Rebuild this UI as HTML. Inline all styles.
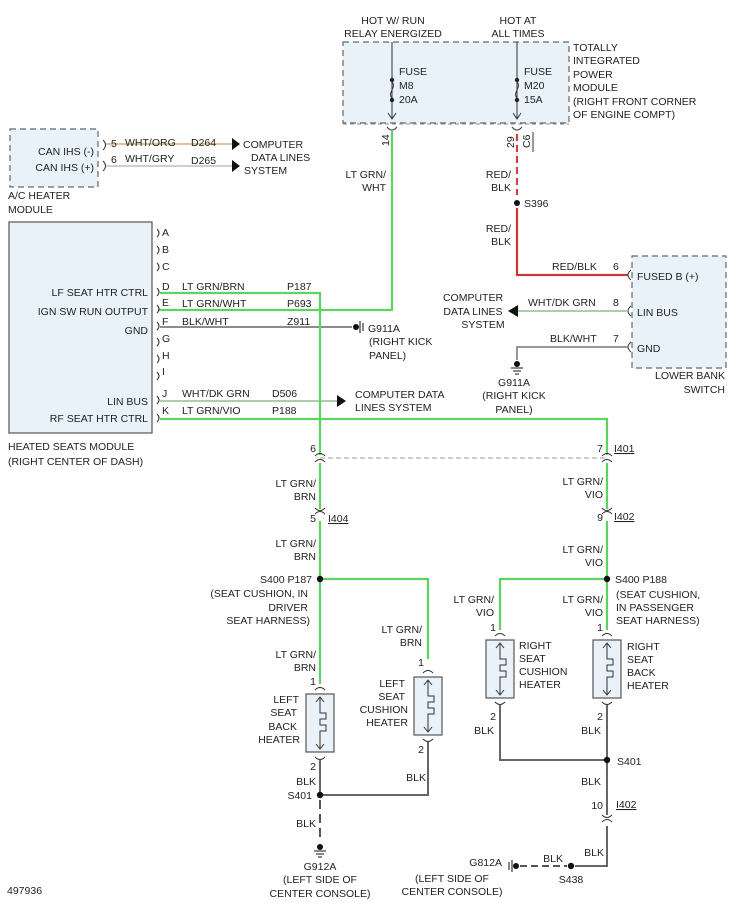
<!DOCTYPE html>
<html><head><meta charset="utf-8"><style>
html,body{margin:0;padding:0;background:#fff}
svg{display:block}
text{font-family:"Liberation Sans",sans-serif;font-size:10.5px;fill:#222}
.u{text-decoration:underline}
</style></head><body>
<svg width="733" height="903" viewBox="0 0 733 903" xmlns="http://www.w3.org/2000/svg">
<defs>
<g id="ht">
<rect x="0" y="0" width="28" height="58" fill="#e8f2f8" stroke="#555" stroke-width="1.2"/>
<path d="M14 3 V19 H20 V25 H14 V31 H20 V37 H14 V55" fill="none" stroke="#333" stroke-width="1"/>
<path d="M10 8 L14 3 L18 8 M10 50 L14 55 L18 50" fill="none" stroke="#333" stroke-width="1"/>
</g>
</defs>
<!-- TIPM -->
<rect x="343" y="42" width="226" height="81" fill="#e8f2f8" stroke="#666" stroke-dasharray="6,4" stroke-width="1.2"/>
<text x="393" y="24" text-anchor="middle">HOT W/ RUN</text>
<text x="393" y="37" text-anchor="middle">RELAY ENERGIZED</text>
<text x="518" y="24" text-anchor="middle">HOT AT</text>
<text x="518" y="37" text-anchor="middle">ALL TIMES</text>
<g stroke="#333" fill="none" stroke-width="1">
<path d="M392 42 V118 M388 113 L392 119 L396 113"/>
<path d="M517 42 V118 M513 113 L517 119 L521 113"/>
<path d="M392 98 C387 93 397 87 392 82"/><path d="M517 98 C512 93 522 87 517 82"/>
</g>
<g fill="#222"><circle cx="392" cy="80" r="2.2"/><circle cx="392" cy="100" r="2.2"/><circle cx="517" cy="80" r="2.2"/><circle cx="517" cy="100" r="2.2"/></g>
<text x="399" y="75">FUSE</text><text x="399" y="89">M8</text><text x="399" y="103">20A</text>
<text x="524" y="75">FUSE</text><text x="524" y="89">M20</text><text x="524" y="103">15A</text>
<text x="573" y="51">TOTALLY</text><text x="573" y="64">INTEGRATED</text><text x="573" y="78">POWER</text>
<text x="573" y="91">MODULE</text><text x="573" y="105">(RIGHT FRONT CORNER</text><text x="573" y="118">OF ENGINE COMPT)</text>
<path d="M343 124 H569" stroke="#888" stroke-dasharray="4,3"/>
<path d="M387 127 Q392 133 397 127 M512 127 Q517 133 522 127" stroke="#333" fill="none"/>
<text x="389" y="146" transform="rotate(-90 389 146)" text-anchor="start">14</text>
<text x="514" y="148" transform="rotate(-90 514 148)">29</text>
<text x="530" y="148" transform="rotate(-90 530 148)">C6</text>
<path d="M533 132 V152" stroke="#333"/>
<!-- green LT GRN/WHT -->
<path d="M392 131 V310 H158" stroke="#5fd35f" stroke-width="2.2" fill="none"/>
<text x="386" y="178" text-anchor="end">LT GRN/</text><text x="386" y="191" text-anchor="end">WHT</text>
<!-- red -->
<path d="M517 134 V195" stroke="#d24040" stroke-width="2.2" stroke-dasharray="7,4"/>
<path d="M517 208 V275 H628" stroke="#c83838" stroke-width="2.2" fill="none"/>
<circle cx="517" cy="203" r="3" fill="#111"/>
<text x="524" y="207">S396</text>
<text x="511" y="178" text-anchor="end">RED/</text><text x="511" y="191" text-anchor="end">BLK</text>
<text x="511" y="232" text-anchor="end">RED/</text><text x="511" y="245" text-anchor="end">BLK</text>
<text x="552" y="270">RED/BLK</text><text x="613" y="270">6</text>
<!-- lower bank switch -->
<rect x="632" y="256" width="94" height="112" fill="#e8f2f8" stroke="#666" stroke-dasharray="6,4" stroke-width="1.2"/>
<g stroke="#333" fill="none"><path d="M631 270 Q625 275 631 280 M631 306 Q625 311 631 316 M631 342 Q625 347 631 352"/></g>
<text x="637" y="280">FUSED B (+)</text><text x="637" y="316">LIN BUS</text><text x="637" y="352">GND</text>
<text x="725" y="379" text-anchor="end">LOWER BANK</text><text x="725" y="393" text-anchor="end">SWITCH</text>
<path d="M518 311 H628" stroke="#8fbf8f" stroke-width="1.5"/>
<path d="M508 311 L518 305 L518 317 Z" fill="#111"/>
<text x="528" y="306">WHT/DK GRN</text><text x="613" y="306">8</text>
<text x="473" y="301" text-anchor="middle">COMPUTER</text><text x="473" y="315" text-anchor="middle">DATA LINES</text><text x="483" y="328" text-anchor="middle">SYSTEM</text>
<path d="M517 360 V347 H628" stroke="#777" stroke-width="1.5" fill="none"/>
<text x="550" y="342">BLK/WHT</text><text x="613" y="342">7</text>
<circle cx="517" cy="364" r="3" fill="#111"/><path d="M511 368 H523 M513 371 H521 M515 374 H519" stroke="#111"/>
<text x="514" y="386" text-anchor="middle">G911A</text><text x="514" y="399" text-anchor="middle">(RIGHT KICK</text><text x="514" y="413" text-anchor="middle">PANEL)</text>
<!-- A/C heater -->
<rect x="10" y="129" width="88" height="58" fill="#e8f2f8" stroke="#666" stroke-dasharray="6,4" stroke-width="1.2"/>
<text x="94" y="155" text-anchor="end">CAN IHS (-)</text><text x="94" y="171" text-anchor="end">CAN IHS (+)</text>
<g stroke="#333" fill="none"><path d="M103 140 Q108 145 103 150 M103 161 Q108 166 103 171"/></g>
<path d="M106 144 H232" stroke="#e0b890" stroke-width="1.8"/>
<path d="M106 166 H232" stroke="#c8c8c8" stroke-width="1.8"/>
<path d="M240 144 L232 138 L232 150Z M240 166 L232 160 L232 172Z" fill="#111"/>
<text x="111" y="147">5</text><text x="125" y="146">WHT/ORG</text><text x="191" y="146">D264</text>
<text x="111" y="163">6</text><text x="125" y="162">WHT/GRY</text><text x="191" y="164">D265</text>
<text x="243" y="148">COMPUTER</text><text x="251" y="161">DATA LINES</text><text x="244" y="174">SYSTEM</text>
<text x="8" y="199">A/C HEATER</text><text x="8" y="213">MODULE</text>
<!-- heated seats module -->
<rect x="9" y="222" width="143" height="211" fill="#e8f2f8" stroke="#555" stroke-width="1.2"/>
<text x="148" y="296" text-anchor="end">LF SEAT HTR CTRL</text>
<text x="148" y="315" text-anchor="end">IGN SW RUN OUTPUT</text>
<text x="148" y="334" text-anchor="end">GND</text>
<text x="148" y="405" text-anchor="end">LIN BUS</text>
<text x="148" y="422" text-anchor="end">RF SEAT HTR CTRL</text>
<text x="8" y="450">HEATED SEATS MODULE</text><text x="8" y="465">(RIGHT CENTER OF DASH)</text>
<g stroke="#333" fill="none">
<path d="M157 229 Q161 233 157 237 M157 246 Q161 250 157 254 M157 263 Q161 267 157 271 M157 288 Q161 292 157 296 M157 305 Q161 309 157 313 M157 322 Q161 326 157 330 M157 338 Q161 342 157 346 M157 355 Q161 359 157 363 M157 372 Q161 376 157 380 M157 396 Q161 400 157 404 M157 414 Q161 418 157 422"/>
</g>
<g>
<text x="162" y="236">A</text><text x="162" y="253">B</text><text x="162" y="270">C</text><text x="162" y="290">D</text><text x="162" y="306">E</text>
<text x="162" y="325">F</text><text x="162" y="342">G</text><text x="162" y="359">H</text><text x="162" y="375">I</text><text x="162" y="397">J</text><text x="162" y="414">K</text>
</g>
<text x="182" y="290">LT GRN/BRN</text><text x="287" y="290">P187</text>
<text x="182" y="307">LT GRN/WHT</text><text x="287" y="307">P693</text>
<text x="182" y="325">BLK/WHT</text><text x="287" y="325">Z911</text>
<text x="182" y="397">WHT/DK GRN</text><text x="272" y="397">D506</text>
<text x="182" y="414">LT GRN/VIO</text><text x="272" y="414">P188</text>
<path d="M160 327 H352" stroke="#666" stroke-width="1.5"/>
<circle cx="356" cy="327" r="3" fill="#111"/><path d="M360 321 V333 M363 323 V331" stroke="#111"/>
<text x="368" y="332">G911A</text><text x="369" y="345">(RIGHT KICK</text><text x="369" y="359">PANEL)</text>
<path d="M160 401 H337" stroke="#8fbf8f" stroke-width="1.5"/>
<path d="M346 401 L337 395 L337 407Z" fill="#111"/>
<text x="355" y="398">COMPUTER DATA</text><text x="355" y="411">LINES SYSTEM</text>
<!-- main green wires -->
<path d="M160 293 H320 V455" stroke="#5fd35f" stroke-width="2.2" fill="none"/>
<path d="M160 419 H607 V455" stroke="#5fd35f" stroke-width="2.2" fill="none"/>
<path d="M320 458 H607" stroke="#999" stroke-dasharray="5,3"/>
<g stroke="#333" fill="none"><path d="M315 456 Q320 451 325 456 M315 462 Q320 457 325 462 M602 456 Q607 451 612 456 M602 462 Q607 457 612 462"/></g>
<text x="316" y="452" text-anchor="end">6</text><text x="603" y="452" text-anchor="end">7</text><text x="614" y="452" class="u">I401</text>
<path d="M320 463 V509 M320 521 V579 H428 V659 M320 579 V684" stroke="#5fd35f" stroke-width="2.2" fill="none"/>
<path d="M607 463 V509 M607 521 V579 H500 V630 M607 579 V630" stroke="#5fd35f" stroke-width="2.2" fill="none"/>
<g stroke="#333" fill="none"><path d="M315 508 Q320 513 325 508 M315 514 Q320 509 325 514 M602 508 Q607 513 612 508 M602 514 Q607 509 612 514"/></g>
<text x="316" y="487" text-anchor="end">LT GRN/</text><text x="316" y="500" text-anchor="end">BRN</text>
<text x="603" y="485" text-anchor="end">LT GRN/</text><text x="603" y="498" text-anchor="end">VIO</text>
<text x="316" y="522" text-anchor="end">5</text><text x="328" y="522" class="u">I404</text>
<text x="603" y="521" text-anchor="end">9</text><text x="614" y="520" class="u">I402</text>
<text x="316" y="547" text-anchor="end">LT GRN/</text><text x="316" y="560" text-anchor="end">BRN</text>
<text x="603" y="553" text-anchor="end">LT GRN/</text><text x="603" y="566" text-anchor="end">VIO</text>
<circle cx="320" cy="579" r="3.2" fill="#111"/><circle cx="607" cy="579" r="3.2" fill="#111"/>
<text x="312" y="583" text-anchor="end">S400 P187</text>
<text x="308" y="597" text-anchor="end">(SEAT CUSHION, IN</text><text x="308" y="611" text-anchor="end">DRIVER</text><text x="310" y="624" text-anchor="end">SEAT HARNESS)</text>
<text x="615" y="583">S400 P188</text>
<text x="616" y="598">(SEAT CUSHION,</text><text x="616" y="611">IN PASSENGER</text><text x="616" y="624">SEAT HARNESS)</text>
<text x="494" y="603" text-anchor="end">LT GRN/</text><text x="494" y="616" text-anchor="end">VIO</text>
<text x="603" y="603" text-anchor="end">LT GRN/</text><text x="603" y="616" text-anchor="end">VIO</text>
<text x="422" y="633" text-anchor="end">LT GRN/</text><text x="422" y="646" text-anchor="end">BRN</text>
<text x="316" y="658" text-anchor="end">LT GRN/</text><text x="316" y="671" text-anchor="end">BRN</text>
<!-- heater connectors -->
<g stroke="#333" fill="none">
<path d="M315 690 Q320 685 325 690 M315 757 Q320 762 325 757 M423 673 Q428 668 433 673 M423 739 Q428 744 433 739 M495 636 Q500 631 505 636 M495 702 Q500 707 505 702 M602 636 Q607 631 612 636 M602 702 Q607 707 612 702"/>
</g>
<text x="316" y="685" text-anchor="end">1</text><text x="424" y="666" text-anchor="end">1</text>
<text x="496" y="631" text-anchor="end">1</text><text x="603" y="631" text-anchor="end">1</text>
<use href="#ht" x="306" y="694"/><use href="#ht" x="414" y="677"/><use href="#ht" x="486" y="640"/><use href="#ht" x="593" y="640"/>
<text x="299" y="703" text-anchor="end">LEFT</text><text x="297" y="716" text-anchor="end">SEAT</text><text x="297" y="730" text-anchor="end">BACK</text><text x="300" y="743" text-anchor="end">HEATER</text>
<text x="405" y="687" text-anchor="end">LEFT</text><text x="405" y="700" text-anchor="end">SEAT</text><text x="408" y="713" text-anchor="end">CUSHION</text><text x="408" y="726" text-anchor="end">HEATER</text>
<text x="519" y="649">RIGHT</text><text x="519" y="662">SEAT</text><text x="519" y="675">CUSHION</text><text x="519" y="688">HEATER</text>
<text x="627" y="650">RIGHT</text><text x="627" y="663">SEAT</text><text x="627" y="676">BACK</text><text x="627" y="689">HEATER</text>
<!-- black wires -->
<g stroke="#666" stroke-width="2" fill="none">
<path d="M320 760 V795 H428 V742"/>
<path d="M500 705 V760 H607 M607 705 V815 M607 826 V866 H575"/>
</g>
<path d="M320 800 V840" stroke="#555" stroke-width="2" stroke-dasharray="9,5"/>
<path d="M520 866 H567" stroke="#555" stroke-width="2" stroke-dasharray="7,4"/>
<g stroke="#333" fill="none"><path d="M602 815 Q607 820 612 815 M602 822 Q607 817 612 822"/></g>
<text x="316" y="770" text-anchor="end">2</text><text x="424" y="753" text-anchor="end">2</text>
<text x="496" y="720" text-anchor="end">2</text><text x="603" y="720" text-anchor="end">2</text>
<text x="316" y="785" text-anchor="end">BLK</text><text x="426" y="781" text-anchor="end">BLK</text>
<text x="494" y="734" text-anchor="end">BLK</text><text x="601" y="734" text-anchor="end">BLK</text>
<circle cx="320" cy="795" r="3.2" fill="#111"/><circle cx="607" cy="760" r="3.2" fill="#111"/><circle cx="571" cy="866" r="3.2" fill="#111"/>
<text x="312" y="799" text-anchor="end">S401</text><text x="617" y="765">S401</text>
<text x="316" y="827" text-anchor="end">BLK</text>
<text x="601" y="785" text-anchor="end">BLK</text>
<text x="603" y="809" text-anchor="end">10</text><text x="616" y="808" class="u">I402</text>
<text x="604" y="856" text-anchor="end">BLK</text>
<text x="563" y="862" text-anchor="end">BLK</text>
<text x="571" y="883" text-anchor="middle">S438</text>
<circle cx="320" cy="847" r="3" fill="#111"/><path d="M314 851 H326 M316 854 H324 M318 857 H322" stroke="#111"/>
<text x="320" y="870" text-anchor="middle">G912A</text><text x="320" y="883" text-anchor="middle">(LEFT SIDE OF</text><text x="320" y="897" text-anchor="middle">CENTER CONSOLE)</text>
<circle cx="516" cy="866" r="3" fill="#111"/><path d="M512 860 V872 M509 862 V870" stroke="#111"/>
<text x="502" y="866" text-anchor="end">G812A</text>
<text x="452" y="882" text-anchor="middle">(LEFT SIDE OF</text><text x="452" y="895" text-anchor="middle">CENTER CONSOLE)</text>
<text x="7" y="894">497936</text>
</svg>
</body></html>
